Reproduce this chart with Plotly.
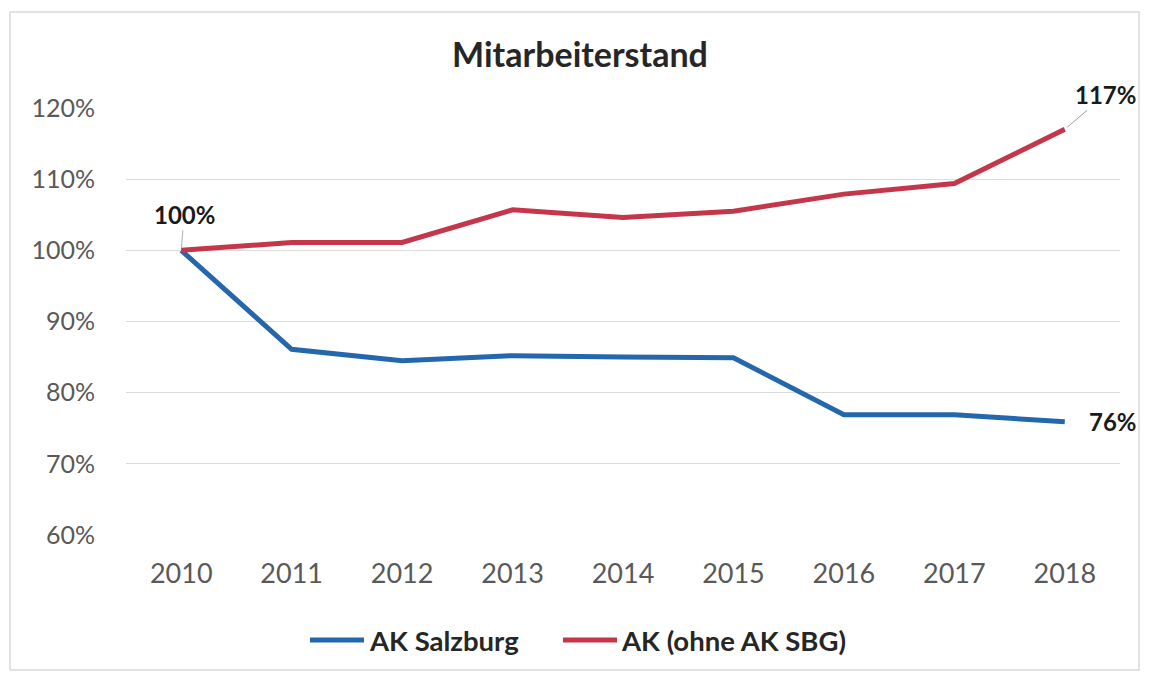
import plotly.graph_objects as go

years = [2010, 2011, 2012, 2013, 2014, 2015, 2016, 2017, 2018]
ak_salzburg = [1.000, 0.861, 0.845, 0.852, 0.850, 0.849, 0.769, 0.769, 0.759]
ak_ohne_sbg = [1.000, 1.011, 1.011, 1.057, 1.046, 1.055, 1.079, 1.094, 1.170]
series_names = ["AK Salzburg", "AK (ohne AK SBG)"]
y_ticks = [0.6, 0.7, 0.8, 0.9, 1.0, 1.1, 1.2]
y_ticktext = ["60%", "70%", "80%", "90%", "100%", "110%", "120%"]

FONT = "Lato, 'Open Sans', sans-serif"
BLUE = "#2467ad"
RED = "#c4374b"
DARK = "#262626"
GREY = "#595959"

W, H = 1133, 664
L, R, T, B = 118, 21, 100, 137
PW, PH = W - L - R, H - T - B


def px(xf):
    """figure pixel x -> paper x"""
    return (xf - L) / PW


def py(yf):
    """figure pixel y -> paper y"""
    return (H - B - yf) / PH


fig = go.Figure()
fig.add_trace(go.Scatter(x=years, y=ak_salzburg, mode="lines", name=series_names[0],
                         line=dict(color=BLUE, width=5), showlegend=False))
fig.add_trace(go.Scatter(x=years, y=ak_ohne_sbg, mode="lines", name=series_names[1],
                         line=dict(color=RED, width=5), showlegend=False))

# data labels
lab_font = dict(family=FONT, size=24, color="#1a1a1a")
fig.add_annotation(x=years[0], y=ak_ohne_sbg[0], text="<b>100%</b>", showarrow=True,
                   ax=3, ay=-36, arrowhead=0, arrowwidth=1, arrowcolor="#b0b0b0", standoff=2,
                   font=lab_font)
fig.add_annotation(x=years[-1], y=ak_ohne_sbg[-1], text="<b>117%</b>", showarrow=True,
                   ax=41, ay=-35, arrowhead=0, arrowwidth=1, arrowcolor="#a0a0a0", standoff=3,
                   font=lab_font)
fig.add_annotation(x=years[-1], y=ak_salzburg[-1], text="<b>76%</b>", showarrow=False,
                   xanchor="left", xshift=22, yshift=0, font=lab_font)

# custom legend
leg_y = py(632)
leg_font = dict(family=FONT, size=27.5, color=DARK)
fig.add_shape(type="line", xref="paper", yref="paper", x0=px(302), x1=px(356), y0=leg_y, y1=leg_y,
              line=dict(color=BLUE, width=5))
fig.add_annotation(xref="paper", yref="paper", x=px(359), y=leg_y, text="<b>" + series_names[0] + "</b>",
                   showarrow=False, xanchor="left", yanchor="middle", font=leg_font)
fig.add_shape(type="line", xref="paper", yref="paper", x0=px(555), x1=px(609), y0=leg_y, y1=leg_y,
              line=dict(color=RED, width=5))
fig.add_annotation(xref="paper", yref="paper", x=px(611), y=leg_y, text="<b>" + series_names[1] + "</b>",
                   showarrow=False, xanchor="left", yanchor="middle", font=leg_font)

# outer frame
fig.add_shape(type="rect", xref="paper", yref="paper", x0=px(2), x1=px(1131), y0=py(662), y1=py(4),
              line=dict(color="#d9d9d9", width=1.5), layer="below")

fig.update_layout(
    width=W, height=H,
    paper_bgcolor="white", plot_bgcolor="white",
    margin=dict(l=L, r=R, t=T, b=B),
    title=dict(text="<b>Mitarbeiterstand</b>", x=572 / W, xanchor="center", y=1 - 47 / H, yanchor="middle",
               font=dict(family=FONT, size=34, color=DARK)),
    showlegend=False,
    font=dict(family=FONT),
)
fig.update_xaxes(range=[2009.5, 2018.5], tickvals=years, ticktext=[str(y) for y in years],
                 showgrid=False, zeroline=False, showline=False,
                 ticks="outside", ticklen=15, tickcolor="rgba(0,0,0,0)",
                 tickfont=dict(family=FONT, size=27, color=GREY))
fig.update_yaxes(range=[0.6, 1.2], tickvals=y_ticks, ticktext=y_ticktext,
                 showgrid=True, gridcolor="#dcdcdc", gridwidth=1, zeroline=False, showline=False,
                 ticks="outside", ticklen=25, tickcolor="rgba(0,0,0,0)",
                 tickfont=dict(family=FONT, size=25, color=GREY))

fig.write_html("out.html")
